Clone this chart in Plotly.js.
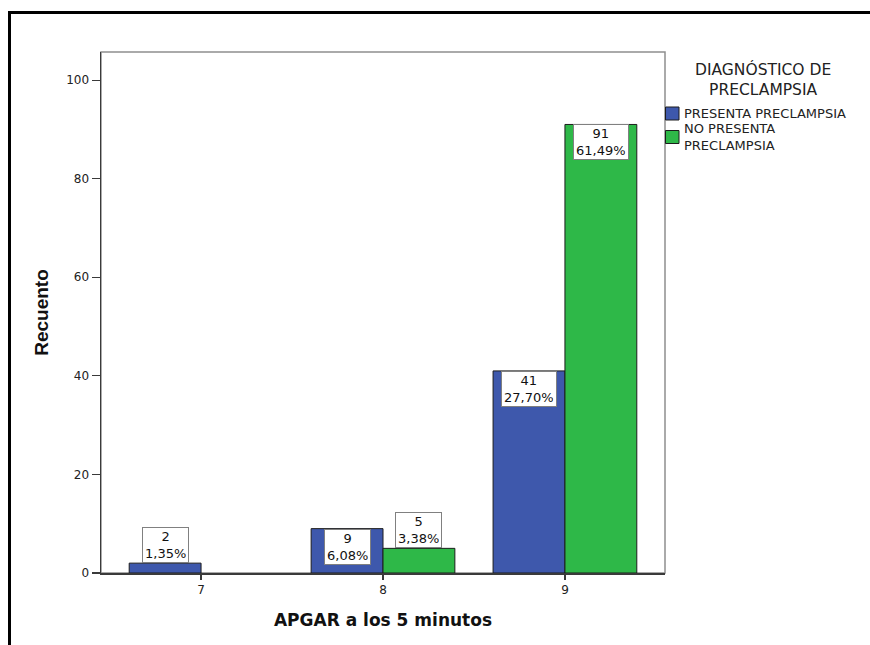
<!DOCTYPE html>
<html>
<head>
<meta charset="utf-8">
<script src="https://cdn.plot.ly/plotly-3.0.1.min.js"></script>
<style>
  html, body { margin: 0; padding: 0; background: #ffffff; }
  #wrap { position: relative; width: 870px; height: 645px; overflow: hidden; }
  #chart { position: absolute; left: 0; top: 0; width: 870px; height: 645px; }
  /* page frame: heavy rule along the top and left edges */
  #frame { position: absolute; left: 8px; top: 11px; right: 0; bottom: 0;
           border-top: 3px solid #000; border-left: 3px solid #000; pointer-events: none; }
</style>
</head>
<body>
<div id="wrap">
  <div id="chart"></div>
  <div id="frame"></div>
</div>
<script>
// APGAR score at 5 minutes, split by pre-eclampsia diagnosis
const categories = [7, 8, 9];
const seriesNames = ["PRESENTA PRECLAMPSIA", "NO PRESENTA PRECLAMPSIA"];
const presentaCounts = [2, 9, 41];
const noPresentaCounts = [null, 5, 91];
const seriesColors = ["#3e58ac", "#2eb848"];
const legendTitle = "DIAGNÓSTICO DE<br>PRECLAMPSIA";
const legendLabels = ["PRESENTA PRECLAMPSIA", "NO PRESENTA<br>PRECLAMPSIA"];
const yTicks = [0, 20, 40, 60, 80, 100];
const xTitle = "APGAR a los 5 minutos";
const yTitle = "Recuento";

const W = 870, H = 645;
const M = { l: 101, r: 205, t: 52, b: 72 };
const plotW = W - M.l - M.r;
const plotH = H - M.t - M.b;
const yRange = [0, 105.7];
const xRange = [6.45, 9.55];
const BARGAP = 0.21;
const barOffset = (1 - BARGAP) / 4;
const pxPerUnit = plotH / (yRange[1] - yRange[0]);

const FONT = "DejaVu Sans, Arial, sans-serif";
const ARIAL = "Liberation Sans, Arial, sans-serif";
const series = [presentaCounts, noPresentaCounts];
const total = series.flat().reduce((s, v) => s + (v || 0), 0);
const pct = v => (v / total * 100).toFixed(2).replace(".", ",") + "%";

// paper coordinates from page pixels (for legend placement)
const px = x => (x - M.l) / plotW;
const py = y => 1 - (y - M.t) / plotH;

const traces = series.map((vals, i) => ({
  type: "bar",
  name: seriesNames[i],
  x: categories,
  y: vals,
  marker: { color: seriesColors[i], line: { color: "#1c1c1c", width: 1 } },
  hoverinfo: "skip"
}));

const LABEL_H = 30;
const annotations = [];
// value boxes: count and share of total, inside the bar top when it fits
series.forEach((vals, i) => {
  vals.forEach((v, j) => {
    if (v === null || v === undefined) return;
    const inside = v * pxPerUnit > LABEL_H + 8;
    annotations.push({
      x: categories[j] + (i === 0 ? -barOffset : barOffset),
      y: v, xref: "x", yref: "y",
      text: v + "<br>" + pct(v),
      showarrow: false,
      xanchor: "center", yanchor: inside ? "top" : "bottom",
      height: LABEL_H, valign: "middle",
      bgcolor: "#ffffff", bordercolor: "#808080", borderwidth: 1, borderpad: 2,
      font: { family: FONT, size: 13, color: "#111111" }
    });
  });
});

// legend block to the right of the plot
annotations.push({
  x: px(763), y: py(79.5), xref: "paper", yref: "paper",
  text: legendTitle, showarrow: false, xanchor: "center", yanchor: "middle",
  font: { family: FONT, size: 15.5, color: "#222222" }
});
const itemCenters = [113.5, 137];
const shapes = [{
  type: "rect", xref: "paper", yref: "paper", x0: 0, x1: 1, y0: 0, y1: 1,
  line: { color: "#8e8e8e", width: 1.5 }, layer: "below"
}];
legendLabels.forEach((label, i) => {
  const c = itemCenters[i];
  shapes.push({
    type: "rect", xref: "paper", yref: "paper",
    x0: px(665.5), x1: px(679), y0: py(c - 6.5), y1: py(c + 6.5),
    fillcolor: seriesColors[i], line: { color: "#1c1c1c", width: 1 }
  });
  annotations.push({
    x: px(682), y: py(c), xref: "paper", yref: "paper",
    text: label, showarrow: false, xanchor: "left", yanchor: "middle", align: "left",
    font: { family: FONT, size: 13, color: "#222222" }
  });
});

const layout = {
  width: W, height: H,
  margin: M,
  paper_bgcolor: "#ffffff", plot_bgcolor: "#ffffff",
  showlegend: false,
  barmode: "group", bargap: BARGAP, bargroupgap: 0,
  font: { family: FONT, color: "#222222" },
  xaxis: {
    range: xRange, tickvals: categories, ticktext: categories.map(String),
    showgrid: false, zeroline: false, showline: true, linecolor: "#3a3a3a", linewidth: 1.5,
    ticks: "outside", ticklen: 5, tickcolor: "#3a3a3a", tickwidth: 1.2,
    tickfont: { family: FONT, size: 12, color: "#222222" },
    title: { text: xTitle, standoff: 18, font: { family: FONT, size: 17, color: "#111111", weight: "bold" } },
    fixedrange: true
  },
  yaxis: {
    range: yRange, tickvals: yTicks,
    showgrid: false, zeroline: false, showline: true, linecolor: "#3a3a3a", linewidth: 1.5,
    ticks: "outside", ticklen: 8, tickcolor: "#3a3a3a", tickwidth: 1.2,
    tickfont: { family: FONT, size: 12, color: "#222222" },
    title: { text: yTitle, standoff: 12, font: { family: ARIAL, size: 19, color: "#111111", weight: "bold" } },
    fixedrange: true
  },
  annotations: annotations,
  shapes: shapes
};

Plotly.newPlot("chart", traces, layout, { displayModeBar: false, staticPlot: true });
</script>
</body>
</html>
